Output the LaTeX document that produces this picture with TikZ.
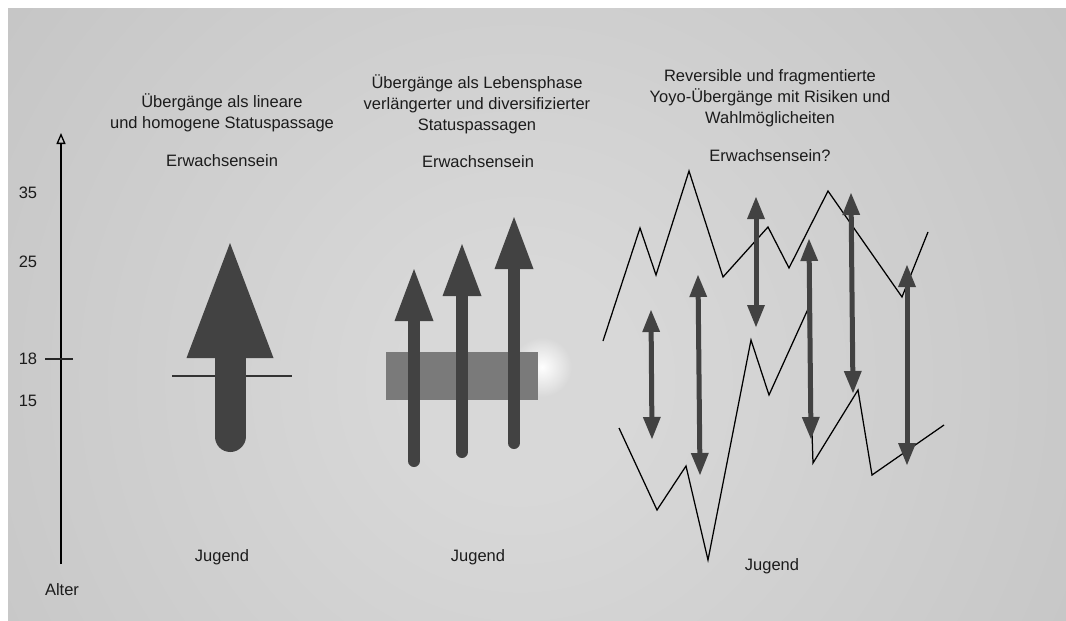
\documentclass[tikz,border=0pt]{standalone}
\usepackage{fontspec}
\setmainfont{Liberation Sans}
\usetikzlibrary{arrows.meta,fadings}

\definecolor{bgLight}{HTML}{D8D8D8}
\definecolor{bgDark}{HTML}{ABABAB}
\definecolor{arrowGray}{HTML}{424242}
\definecolor{bandGray}{HTML}{7A7A7A}
\definecolor{inkGray}{HTML}{1C1C1C}

% soft backdrop: light centre fading to darker edges
\pgfdeclareradialshading{backdrop}{\pgfpoint{0bp}{0bp}}{color(0bp)=(bgLight); color(4bp)=(bgLight); color(50bp)=(bgDark)}
% small white halo
\tikzfading[name=glowfade, inner color=transparent!0, outer color=transparent!100]

\begin{document}
\begin{tikzpicture}[x=1pt,y=-1pt,
  txt/.style={font=\fontsize{16.5}{21}\selectfont, text=inkGray, align=center, inner sep=0pt},
  thinline/.style={draw=black, line width=1.25pt, line join=miter},
  fatarrow/.style={draw=arrowGray, line cap=round},
  bigarrow/.style={fatarrow, line width=31pt, arrows={-Triangle[length=115pt,width=87pt,line width=0pt]}},
  midarrow/.style={fatarrow, line width=12pt, arrows={-Triangle[length=52pt,width=39pt,line width=0pt]}},
  twoway/.style={draw=arrowGray, line width=5pt, arrows={Triangle[length=22pt,width=18pt,line width=0pt]-Triangle[length=22pt,width=18pt,line width=0pt]}},
]
\useasboundingbox (0,0) rectangle (1066,621);
\fill[white] (0,0) rectangle (1066,621);

% backdrop
\begin{scope}
  \clip (8,8) rectangle (1066,621);
  \shade[shading=backdrop] (520,380) circle (700);
\end{scope}

% ---------- age axis ----------
\coordinate (axisBot) at (61,564);
\coordinate (axisTop) at (61,133);
\draw[line width=1.3pt, draw=black, arrows={-Triangle[open,length=11pt,width=9pt]}] (axisBot) -- (axisTop);
\coordinate (tickL) at (45,359);
\coordinate (tickR) at (73,359);
\draw[line width=1.3pt, draw=black!85] (tickL) -- (tickR);
\node[txt] (a35) at (28,193) {35};
\node[txt] (a25) at (28,262) {25};
\node[txt] (a18) at (28,359) {18};
\node[txt] (a15) at (28,401) {15};
\node[txt] (alter) at (62,590) {Alter};

% ---------- linear transition ----------
\node[txt] (t1) at (222,113) {Übergänge als lineare\\und homogene Statuspassage};
\node[txt] (e1) at (222,161) {Erwachsensein};
\node[txt] (j1) at (222,557) {Jugend};
\coordinate (lineL) at (172,376);
\coordinate (lineR) at (292,376);
\draw[line width=1.3pt, draw=black!80] (lineL) -- (lineR);
\coordinate (b1) at (230,436.5);
\coordinate (h1) at (230,243);
\draw[bigarrow] (b1) -- (h1);

% ---------- prolonged, diversified transitions ----------
\node[txt] (t2) at (477,104) {Übergänge als Lebensphase\\verlängerter und diversifizierter\\Statuspassagen};
\node[txt] (e2) at (478,162) {Erwachsensein};
\node[txt] (j2) at (478,557) {Jugend};
\fill[white, path fading=glowfade] (542,367) circle (30);
\node[fill=bandGray, minimum width=152pt, minimum height=48pt, inner sep=0pt, anchor=north west] (band) at (386,352) {};
\coordinate (p1) at (414,461); \coordinate (q1) at (414,269);
\coordinate (p2) at (462,452); \coordinate (q2) at (462,244);
\coordinate (p3) at (514,443); \coordinate (q3) at (514,217);
\draw[midarrow] (p1) -- (q1);
\draw[midarrow] (p2) -- (q2);
\draw[midarrow] (p3) -- (q3);

% ---------- reversible yoyo transitions ----------
\node[txt] (t3) at (770,98) {Reversible und fragmentierte\\Yoyo-Übergänge mit Risiken und\\Wahlmöglicheiten};
\node[txt] (e3) at (770,156) {Erwachsensein?};
\node[txt] (j3) at (772,566) {Jugend};

\draw[thinline] (603,341) -- (640,228) -- (656,275) -- (689,171) -- (723,277)
  -- (768,227) -- (789,268) -- (828,191) -- (902,297) -- (928,232);
\draw[thinline] (619,428) -- (657,510) -- (686,466) -- (708,560) -- (751,340)
  -- (769,395) -- (808,309) -- (813,463) -- (858,390) -- (872,475) -- (944,425);

\coordinate (u1) at (651,310); \coordinate (d1) at (652,439);
\coordinate (u2) at (698,275); \coordinate (d2) at (700,475);
\coordinate (u3) at (756,197); \coordinate (d3) at (756,327);
\coordinate (u4) at (809,239); \coordinate (d4) at (811,439);
\coordinate (u5) at (851,193); \coordinate (d5) at (853,393);
\coordinate (u6) at (907,265); \coordinate (d6) at (907,465);
\draw[twoway] (u1) -- (d1);
\draw[twoway] (u2) -- (d2);
\draw[twoway] (u3) -- (d3);
\draw[twoway] (u4) -- (d4);
\draw[twoway] (u5) -- (d5);
\draw[twoway] (u6) -- (d6);
\end{tikzpicture}
\end{document}
